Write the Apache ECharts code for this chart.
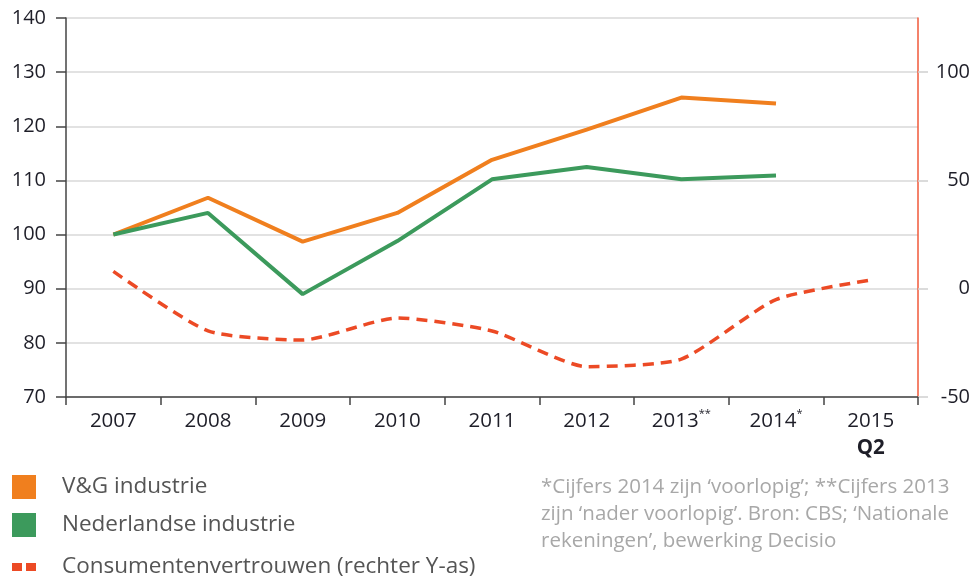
<!DOCTYPE html>
<html>
<head>
<meta charset="utf-8">
<script src="https://cdn.jsdelivr.net/npm/echarts@6/dist/echarts.min.js"></script>
<style>
  html, body { margin: 0; padding: 0; background: #fff; }
  #chart { width: 973px; height: 577px; }
</style>
</head>
<body>
<div id="chart"></div>
<script>
// categories and values
const years = ["2007", "2008", "2009", "2010", "2011", "2012", "2013", "2014", "2015"];
const vgIndustrie = [100, 106.8, 98.7, 104, 113.8, 119.4, 125.3, 124.2, null];
const nlIndustrie = [100, 104, 89, 98.8, 110.2, 112.5, 110.2, 110.9, null];
const consumentenvertrouwen = [8, -19.5, -23.7, -13.5, -19.5, -36, -32.5, -5, 4];
const rightTicks = [-50, 0, 50, 100];

const fontFamily = "'Open Sans', sans-serif";
const orange = "#f07f1e";
const green = "#3c9a5c";
const red = "#ec4a25";

const chart = echarts.init(document.getElementById("chart"));

chart.setOption({
  animation: false,
  textStyle: { fontFamily: fontFamily },
  grid: { left: 66, right: 53, top: 18, bottom: 180 },
  title: {
    text: "*Cijfers 2014 zijn ‘voorlopig’; **Cijfers 2013\nzijn ‘nader voorlopig’. Bron: CBS; ‘Nationale\nrekeningen’, bewerking Decisio",
    left: 536,
    top: 469,
    textStyle: {
      fontSize: 20.5,
      fontWeight: "normal",
      color: "#a8a8a8",
      lineHeight: 27,
      fontFamily: fontFamily
    }
  },
  legend: [
    {
      orient: "vertical",
      left: 7,
      top: 470,
      itemWidth: 24,
      itemHeight: 24,
      itemGap: 14,
      data: [
        { name: "V&G industrie", icon: "rect" },
        { name: "Nederlandse industrie", icon: "rect" }
      ],
      textStyle: { fontSize: 22.5, color: "#555", lineHeight: 24, padding: [0, 0, 0, 21] }
    },
    {
      orient: "vertical",
      left: 7,
      top: 550,
      itemWidth: 24,
      itemHeight: 8,
      data: [
        {
          name: "Consumentenvertrouwen (rechter Y-as)",
          icon: "path://M0,0h10v8H0z M14,0h10v8H14z"
        }
      ],
      itemStyle: { color: red, borderWidth: 0 },
      lineStyle: { width: 0 },
      textStyle: { fontSize: 22.5, color: "#555", lineHeight: 24, padding: [0, 0, 0, 21] }
    }
  ],
  xAxis: {
    type: "category",
    data: years,
    boundaryGap: true,
    axisLine: { onZero: false, lineStyle: { color: "#444", width: 1.5 } },
    axisTick: { show: true, interval: 0, length: 8, lineStyle: { color: "#444", width: 1.5 } },
    axisLabel: {
      interval: 0,
      fontSize: 20.5,
      color: "#1e1e28",
      margin: 11,
      lineHeight: 27,
      formatter: function (v) {
        if (v === "2013") return "2013{s|**}";
        if (v === "2014") return "2014{s|*}";
        if (v === "2015") return "2015\n{b|Q2}";
        return v;
      },
      rich: {
        s: { fontSize: 11, color: "#1e1e28", verticalAlign: "top", lineHeight: 27 },
        b: { fontSize: 20.5, fontWeight: "bold", color: "#1e1e28", lineHeight: 27 }
      }
    }
  },
  yAxis: [
    {
      type: "value",
      min: 70,
      max: 140,
      interval: 10,
      axisLine: { show: true, lineStyle: { color: "#444", width: 1.5 } },
      axisTick: { show: true, length: 10, lineStyle: { color: "#444", width: 1.5 } },
      axisLabel: { fontSize: 20, color: "#1e1e28", margin: 20 },
      splitLine: { lineStyle: { color: "#d9d9d9", width: 1.5 } }
    },
    {
      type: "value",
      min: -50,
      max: 125,
      interval: 50,
      position: "right",
      axisLine: { show: true, lineStyle: { color: "#f0593a", width: 1.5 } },
      axisTick: {
        show: true,
        length: 10,
        customValues: rightTicks,
        lineStyle: { color: "#cfcfcf", width: 1.5 }
      },
      axisLabel: {
        fontSize: 20,
        color: "#1e1e28",
        margin: 52,
        align: "right",
        customValues: rightTicks
      },
      splitLine: { show: false }
    }
  ],
  series: [
    {
      name: "V&G industrie",
      type: "line",
      data: vgIndustrie,
      color: orange,
      symbol: "none",
      lineStyle: { color: orange, width: 4 }
    },
    {
      name: "Nederlandse industrie",
      type: "line",
      data: nlIndustrie,
      color: green,
      symbol: "none",
      lineStyle: { color: green, width: 4 }
    },
    {
      name: "Consumentenvertrouwen (rechter Y-as)",
      type: "line",
      yAxisIndex: 1,
      data: consumentenvertrouwen,
      color: red,
      symbol: "none",
      smooth: 0.2,
      lineStyle: { color: red, width: 3.5, type: [11, 7] }
    }
  ]
});
</script>
</body>
</html>
